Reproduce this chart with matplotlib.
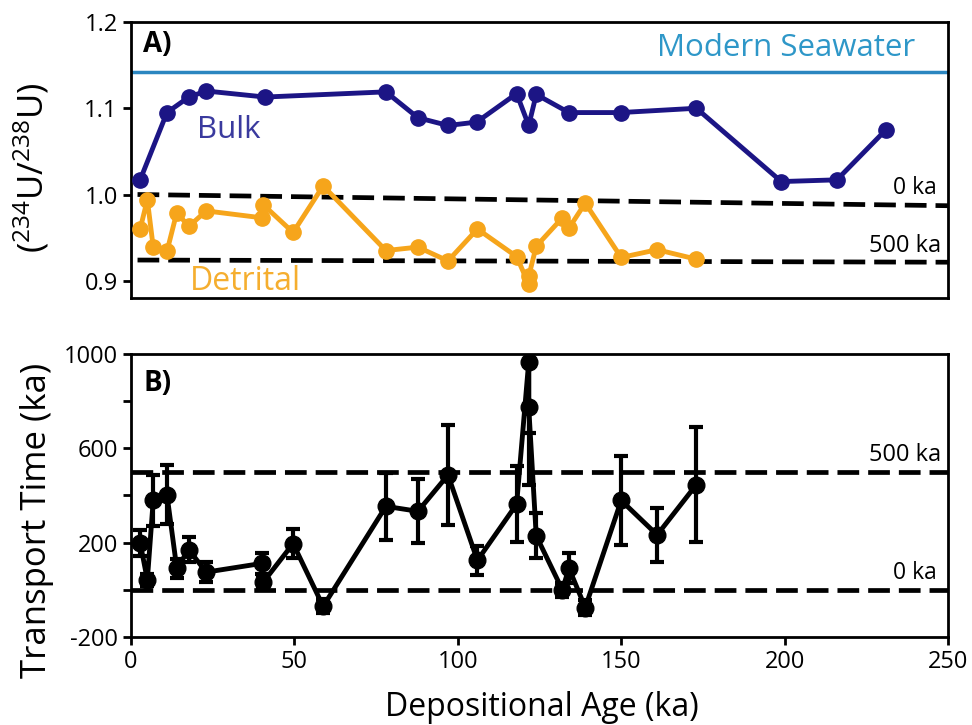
import matplotlib
matplotlib.use('Agg')
import matplotlib.pyplot as plt

plt.rcParams['font.family'] = ['Open Sans', 'DejaVu Sans']
plt.rcParams['mathtext.fontset'] = 'custom'
plt.rcParams['mathtext.rm'] = 'Open Sans'
plt.rcParams['mathtext.it'] = 'Open Sans:italic'
plt.rcParams['mathtext.bf'] = 'Open Sans:bold'

# Panel A: (234U/238U) activity ratios
bulk_age = [2.8, 11, 17.7, 23, 41, 78, 87.8, 97, 105.8, 118, 121.7, 124,
            134, 149.8, 173, 199, 216, 231]
bulk_ratio = [1.017, 1.095, 1.113, 1.120, 1.113, 1.119, 1.089, 1.080, 1.084,
              1.117, 1.080, 1.116, 1.095, 1.095, 1.100, 1.015, 1.017, 1.075]

det_age = [2.8, 5.0, 6.8, 11, 14, 17.7, 23, 40, 40.5, 49.6, 58.8, 78, 87.8,
           97, 106, 118, 121.7, 121.7, 124, 132, 134, 139, 150, 161, 173]
det_ratio = [0.960, 0.994, 0.939, 0.934, 0.979, 0.963, 0.981, 0.973, 0.988,
             0.956, 1.010, 0.935, 0.939, 0.923, 0.960, 0.928, 0.896, 0.905,
             0.940, 0.973, 0.961, 0.990, 0.927, 0.936, 0.925]

seawater_ratio = 1.142
# reference lines (start/end of the 0 ka and 500 ka curves)
ref0_age = [2, 250]
ref0_ratio = [1.000, 0.987]
ref500_age = [2, 250]
ref500_ratio = [0.924, 0.9215]

# Panel B: transport time (ka)
transport_time = [200, 42, 379, 404, 92, 170, 75, 112, 33, 196, -70, 354,
                  333, 487, 125, 363, 967, 775, 229, 0, 92, -75, 379, 233, 446]
transport_err = [55, 25, 110, 125, 40, 52, 42, 45, 30, 63, 30, 142, 135, 212,
                 60, 160, 300, 330, 95, 30, 65, 30, 188, 115, 244]

navy = '#1c1585'
orange = '#f6a51b'
blue = '#2b86c0'
dash = (4.6, 1.9)

fig = plt.figure(figsize=(9.72, 7.25), dpi=100)
ax1 = fig.add_axes([131 / 972, 1 - 298 / 725, 817 / 972, 276 / 725])
ax2 = fig.add_axes([131 / 972, 1 - 637 / 725, 817 / 972, 283 / 725])

# ---- Panel A ----
ax1.axhline(seawater_ratio, color=blue, lw=2.5, zorder=2)
ax1.plot(ref0_age, ref0_ratio, color='black', lw=3.4, dashes=dash, zorder=2)
ax1.plot(ref500_age, ref500_ratio, color='black', lw=3.4, dashes=dash, zorder=2)
ax1.plot(bulk_age, bulk_ratio, '-o', color=navy, lw=3.5, ms=11, zorder=3)
ax1.plot(det_age, det_ratio, '-o', color=orange, lw=3.5, ms=11, zorder=3)

ax1.set_xlim(0, 250)
ax1.set_ylim(0.88, 1.2)
ax1.set_yticks([0.9, 1.0, 1.1, 1.2])
ax1.set_yticklabels(['0.9', '1.0', '1.1', '1.2'])
ax1.tick_params(axis='x', bottom=False, labelbottom=False)
ax1.tick_params(axis='y', direction='out', length=6, width=2, labelsize=17)

ax1.text(0.015, 0.917, 'A)', transform=ax1.transAxes, fontsize=20,
         fontweight='bold', va='center', ha='left')
ax1.text(240, 1.170, 'Modern Seawater', color='#2e97c8', fontsize=22.5,
         ha='right', va='center')
ax1.text(30, 1.075, 'Bulk', color='#3a3a9e', fontsize=22.5, ha='center', va='center')
ax1.text(35, 0.899, 'Detrital', color='#f5ae2f', fontsize=23, ha='center', va='center')
ax1.text(246.5, 1.007, '0 ka', fontsize=16.5, ha='right', va='center')
ax1.text(248, 0.940, '500 ka', fontsize=17, ha='right', va='center')

# ---- Panel B ----
ax2.plot([0, 250], [500, 500], color='black', lw=3.4, dashes=dash, zorder=2)
ax2.plot([0, 250], [0, 0], color='black', lw=3.4, dashes=dash, zorder=2)
ax2.errorbar(det_age, transport_time, yerr=transport_err, fmt='-o',
             color='black', lw=3.5, ms=12, elinewidth=3, capsize=5,
             capthick=3, zorder=3)

ax2.set_xlim(0, 250)
ax2.set_ylim(-200, 1000)
ax2.set_xticks([0, 50, 100, 150, 200, 250])
ax2.set_yticks([-200, 0, 200, 400, 600, 800, 1000])
ax2.set_yticklabels(['-200', '', '200', '', '600', '', '1000'])
ax2.tick_params(direction='out', length=6, width=2, labelsize=17)

ax2.text(0.015, 0.896, 'B)', transform=ax2.transAxes, fontsize=20,
         fontweight='bold', va='center', ha='left')
ax2.text(248, 571, '500 ka', fontsize=17, ha='right', va='center')
ax2.text(246.5, 71, '0 ka', fontsize=16.5, ha='right', va='center')

for ax in (ax1, ax2):
    for sp in ax.spines.values():
        sp.set_linewidth(2)

fig.text(32 / 972, 1 - 168 / 725, r'$(^{234}\mathrm{U}/^{238}\mathrm{U})$',
         rotation=90, fontsize=25, ha='center', va='center')
fig.text(37 / 972, 1 - 520 / 725, 'Transport Time (ka)', rotation=90,
         fontsize=25, ha='center', va='center')
fig.text(542 / 972, 1 - 708 / 725, 'Depositional Age (ka)', fontsize=23,
         ha='center', va='center')

fig.savefig('out.png', dpi=100)
